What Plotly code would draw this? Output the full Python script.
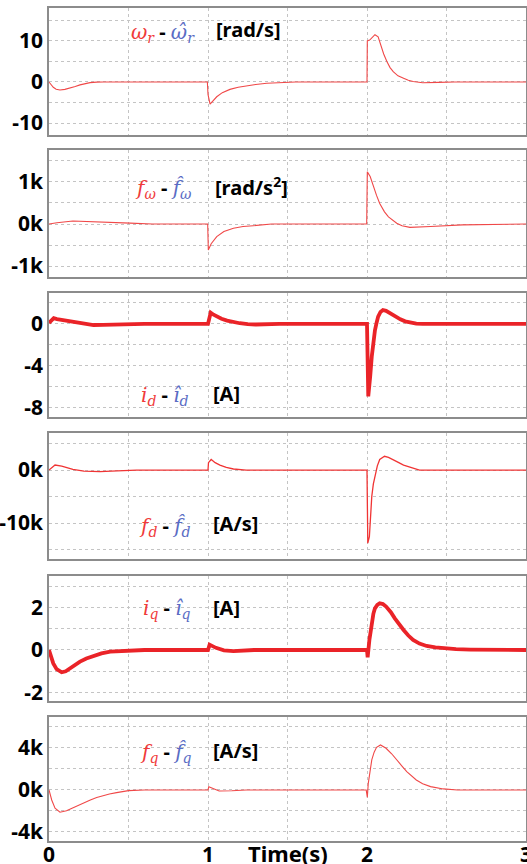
import plotly.graph_objects as go

# ---------------- data ----------------
# Panel 1: speed estimation error  w_r - w_r_hat  [rad/s]
t_wr = [0, 0.015, 0.027, 0.045, 0.069, 0.1, 0.132, 0.165, 0.195, 0.225, 0.258, 0.3, 0.34,
        0.996, 1.0, 1.013, 1.03, 1.055, 1.09, 1.138, 1.19, 1.243, 1.3, 1.37, 1.45, 1.55,
        2.0, 2.002, 2.02, 2.035, 2.05, 2.07, 2.09, 2.105, 2.125, 2.145, 2.165, 2.195, 2.23,
        2.26, 2.29, 2.35, 2.45, 2.55, 3.0]
e_wr = [0, -0.8, -1.3, -1.75, -1.95, -1.8, -1.5, -1.1, -0.7, -0.4, -0.15, -0.03, 0,
        0, -3.0, -5.4, -4.6, -3.6, -2.6, -1.8, -1.3, -0.9, -0.6, -0.3, -0.12, 0,
        0, 10.0, 10.3, 11.0, 11.5, 11.0, 8.6, 6.8, 5.0, 3.5, 2.5, 1.5, 0.9,
        0.4, 0.1, -0.2, -0.1, 0, 0]

# Panel 2: f_w - f_w_hat  [k rad/s^2]
t_fw = [0, 0.05, 0.15, 0.32, 0.51, 0.65, 0.998, 1.002, 1.02, 1.055, 1.1, 1.16, 1.22, 1.285, 1.4,
        1.998, 2.002, 2.02, 2.04, 2.06, 2.08, 2.11, 2.135, 2.16, 2.187, 2.22, 2.27, 2.4, 2.6, 3.0]
e_fw = [0, 0.03, 0.07, 0.04, 0.02, 0, 0, -0.62, -0.47, -0.30, -0.18, -0.10, -0.06, -0.04, 0,
        0, 1.24, 1.13, 0.89, 0.68, 0.49, 0.29, 0.17, 0.09, 0.02, -0.04, -0.08, -0.06, -0.02, 0]

# Panel 3: i_d - i_d_hat  [A]
t_id = [0, 0.015, 0.03, 0.05, 0.08, 0.11, 0.15, 0.19, 0.23, 0.28, 0.34, 0.4, 0.5, 0.6,
        1.0, 1.017, 1.035, 1.055, 1.085, 1.12, 1.16, 1.2, 1.25, 1.3, 1.45,
        2.0, 2.008, 2.015, 2.02, 2.03, 2.04, 2.05, 2.06, 2.07, 2.085, 2.1, 2.12, 2.145, 2.18,
        2.21, 2.24, 2.27, 2.31, 2.35, 3.0]
e_id = [0.1, 0.35, 0.55, 0.47, 0.4, 0.32, 0.2, 0.07, -0.03, -0.1, -0.08, -0.05, -0.02, 0,
        0, 1.08, 0.88, 0.7, 0.5, 0.32, 0.17, 0.07, -0.02, -0.05, 0,
        0, -6.9, -6.0, -5.0, -3.1, -1.7, -0.6, 0.1, 0.7, 1.15, 1.33, 1.25, 1.0, 0.7,
        0.44, 0.25, 0.12, 0.04, 0, 0]

# Panel 4: f_d - f_d_hat  [k A/s]
t_fd = [0, 0.02, 0.038, 0.08, 0.115, 0.15, 0.22, 0.32, 0.43, 0.55,
        1.0, 1.003, 1.02, 1.045, 1.075, 1.115, 1.16, 1.24,
        2.0, 2.005, 2.015, 2.03, 2.04, 2.05, 2.065, 2.08, 2.11, 2.135, 2.165, 2.2, 2.23, 2.29, 2.33, 3.0]
e_fd = [0, 0.6, 0.95, 0.75, 0.4, 0.12, -0.2, -0.3, -0.15, 0,
        0, 1.4, 2.0, 1.4, 0.95, 0.5, 0.2, 0,
        0, -13.8, -12.6, -5.0, -2.6, -0.95, 0.8, 2.0, 2.6, 2.4, 2.0, 1.4, 0.95, 0.3, 0, 0]

# Panel 5: i_q - i_q_hat  [A]
t_iq = [0, 0.012, 0.027, 0.048, 0.08, 0.105, 0.13, 0.16, 0.195, 0.235, 0.28, 0.33, 0.385, 0.5, 0.6,
        1.0, 1.01, 1.05, 1.1, 1.16, 1.29,
        2.0, 2.004, 2.015, 2.03, 2.04, 2.05, 2.065, 2.08, 2.1, 2.12, 2.15, 2.175, 2.2, 2.23, 2.26,
        2.29, 2.33, 2.375, 2.43, 2.48, 2.56, 2.65, 2.8, 3.0]
e_iq = [0, -0.35, -0.63, -0.9, -1.05, -1.0, -0.86, -0.7, -0.55, -0.4, -0.27, -0.16, -0.08, -0.02, 0,
        0, 0.25, 0.1, -0.02, -0.05, 0,
        0, -0.35, 0.47, 1.33, 1.7, 1.96, 2.12, 2.2, 2.16, 2.04, 1.78, 1.49, 1.22, 0.94, 0.68,
        0.47, 0.3, 0.19, 0.12, 0.08, 0.04, 0.02, 0, 0]

# Panel 6: f_q - f_q_hat  [k A/s]
t_fq = [0, 0.017, 0.038, 0.069, 0.11, 0.174, 0.215, 0.26, 0.3, 0.34, 0.38, 0.425, 0.5, 0.6,
        1.0, 1.005, 1.03, 1.07, 1.15, 1.24,
        1.995, 2.002, 2.008, 2.018, 2.03, 2.045, 2.06, 2.085, 2.12, 2.155, 2.19, 2.22, 2.25,
        2.28, 2.31, 2.35, 2.4, 2.48, 2.57, 3.0]
e_fq = [0, -0.95, -1.74, -2.12, -1.97, -1.52, -1.22, -0.95, -0.72, -0.54, -0.38, -0.25, -0.06, 0,
        0, 0.3, 0.17, -0.1, -0.07, 0,
        0, -0.7, 0.63, 1.9, 2.86, 3.6, 4.06, 4.29, 3.97, 3.45, 2.86, 2.28, 1.74,
        1.3, 0.95, 0.6, 0.32, 0.1, 0, 0]

x_major = [0, 1, 2, 3]
x_labels = ["0", "1", "2", "3"]
x_minor = [0.5, 1.5, 2.5]

y_major = [[-10, 0, 10], [-1, 0, 1], [-8, -4, 0], [-10, 0], [-2, 0, 2], [-4, 0, 4]]
y_labels = [["-10", "0", "10"], ["-1k", "0k", "1k"], ["-8", "-4", "0"],
            ["-10k", "0k"], ["-2", "0", "2"], ["-4k", "0k", "4k"]]
y_minor = [[-5, 5, 15], [-0.5, 0.5, 1.5], [-6, -2, 2], [-15, -5, 5], [-1, 1, 3], [-2, 2, 6]]
y_ranges = [[-12.9, 18], [-1.26, 1.76], [-8.86, 2.95], [-16.8, 7.0], [-2.4, 3.48], [-4.86, 6.95]]

sym = [("ω", "r", "ω̂", "r"), ("f", "ω", "f̂", "ω"), ("i", "d", "î", "d"),
       ("f", "d", "f̂", "d"), ("i", "q", "î", "q"), ("f", "q", "f̂", "q")]
units = ["[rad/s]", "[rad/s<sup>2</sup>]", "[A]", "[A/s]", "[A]", "[A/s]"]

# ---------------- layout geometry (pixels) ----------------
W, H = 527, 864
XL, XR = 49, 526
boxes = [(8, 135), (150, 277), (293, 417), (433, 559), (576, 701), (717, 841)]
sym_pos = [(129, 32), (133, 188), (139, 395), (137, 526), (141, 608), (138, 752)]
unit_pos = [(214, 30), (213, 186), (211, 393), (211, 523), (211, 607), (211, 750)]

series = [(t_wr, e_wr, 1.1, "#f04848"), (t_fw, e_fw, 1.1, "#f04848"), (t_id, e_id, 3.8, "#ea2328"),
          (t_fd, e_fd, 1.3, "#f03434"), (t_iq, e_iq, 3.8, "#ea2328"), (t_fq, e_fq, 1.1, "#f04848")]

RED = "#f03a3a"
BLUE = "#5a6cc4"
TICKFONT = dict(family="Noto Sans", size=21, color="black", weight="bold")
GRIDC = "#c4c4c4"

fig = go.Figure()
annotations = []
for k, ((tt, vv, lw, col), (top, bot)) in enumerate(zip(series, boxes)):
    n = "" if k == 0 else str(k + 1)
    fig.add_trace(go.Scatter(x=tt, y=vv, mode="lines", line=dict(color=col, width=lw),
                             xaxis="x" + n, yaxis="y" + n, showlegend=False, hoverinfo="skip"))
    common = dict(showgrid=True, gridcolor=GRIDC, griddash="dot", gridwidth=1,
                  zeroline=False, showline=True, mirror=True, linecolor="#8c8c8c", linewidth=1.5,
                  ticks="", automargin=False, tickmode="array", ticklabeloverflow="allow")
    fig.layout["xaxis" + n] = dict(domain=[XL / W, XR / W], range=[0, 3], anchor="y" + n,
                                   tickvals=x_major, ticktext=x_labels,
                                   showticklabels=(k == 5), tickfont=TICKFONT, ticklabelstandoff=-6,
                                   minor=dict(tickmode="array", tickvals=x_minor, showgrid=True,
                                              gridcolor=GRIDC, griddash="dot", gridwidth=1, ticks=""),
                                   **common)
    fig.layout["yaxis" + n] = dict(domain=[1 - bot / H, 1 - top / H], range=y_ranges[k], anchor="x" + n,
                                   tickvals=y_major[k], ticktext=y_labels[k], tickfont=TICKFONT,
                                   minor=dict(tickmode="array", tickvals=y_minor[k], showgrid=True,
                                              gridcolor=GRIDC, griddash="dot", gridwidth=1, ticks=""),
                                   **common)
    a, sa, b, sb = sym[k]
    txt = (f"<span style='color:{RED}'><i>{a}</i><sub><i>{sa}</i></sub></span>"
           f"<span style='font-family:Noto Sans;font-weight:bold'> - </span>"
           f"<span style='color:{BLUE}'><i>{b}</i><sub><i>{sb}</i></sub></span>")
    sx, sy = sym_pos[k]
    annotations.append(dict(text=txt, x=sx / W, y=1 - sy / H, xref="paper", yref="paper",
                            xanchor="left", yanchor="middle", showarrow=False,
                            font=dict(family="DejaVu Serif", size=20, color="black")))
    ux, uy = unit_pos[k]
    annotations.append(dict(text=units[k], x=ux / W, y=1 - uy / H, xref="paper", yref="paper",
                            xanchor="left", yanchor="middle", showarrow=False,
                            font=dict(family="Noto Sans", size=20, color="black", weight="bold")))

annotations.append(dict(text="Time(s)", x=1.5, xref="x6", y=1 - 853 / H, yref="paper",
                        xanchor="center", yanchor="middle", showarrow=False,
                        font=dict(family="Noto Sans", size=22, color="black", weight="bold")))

fig.update_layout(width=W, height=H, margin=dict(l=0, r=0, t=0, b=0),
                  paper_bgcolor="white", plot_bgcolor="white", annotations=annotations)

fig.write_html("out.html", config={"displayModeBar": False},
               post_script="document.body.style.margin='0';document.body.style.overflow='hidden';")
